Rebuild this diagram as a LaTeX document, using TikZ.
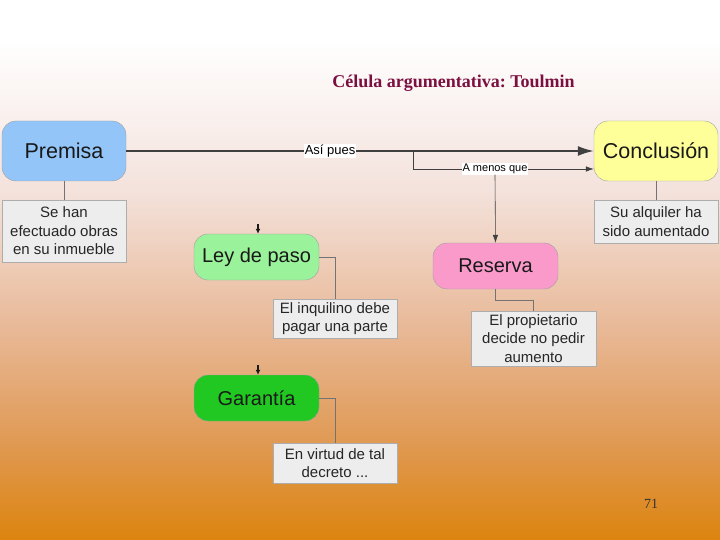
\documentclass[tikz,border=0pt]{standalone}
\usepackage{fontspec}
\setmainfont{Liberation Serif}
\newfontfamily\boxfont{Liberation Sans}
\usetikzlibrary{arrows.meta}
\frenchspacing
\definecolor{bgtop}{HTML}{FFFFFF}
\definecolor{bgmid1}{HTML}{F4E2DC}
\definecolor{bgmid2}{HTML}{E8B896}
\definecolor{bgmid3}{HTML}{E09A55}
\definecolor{bgbot}{HTML}{DC840E}
\definecolor{premc}{HTML}{93C5F8}
\definecolor{concc}{HTML}{FFFF99}
\definecolor{leyc}{HTML}{9AF29A}
\definecolor{resc}{HTML}{F99ACB}
\definecolor{garc}{HTML}{22C822}
\definecolor{notec}{HTML}{EDEDED}
\definecolor{titlec}{HTML}{7B1040}
\definecolor{edgec}{HTML}{777777}
\begin{document}
\begin{tikzpicture}[x=1pt,y=-1pt,
  mainbox/.style={draw=edgec!70,line width=0.4pt,rounded corners=14pt,font=\boxfont\fontsize{20}{24}\selectfont,text=black!90,inner sep=0pt},
  notebox/.style={draw=edgec!60,line width=0.4pt,fill=notec,font=\boxfont\fontsize{15}{18.5}\selectfont,align=center,text=black!85,inner sep=0pt},
  conn/.style={draw=black!75,line width=0.6pt},
  tip/.style={-{Latex[length=8pt,width=5.5pt]}},
  lbl/.style={fill=white,inner sep=0.6pt,font=\boxfont\fontsize{11}{12}\selectfont}]
\useasboundingbox (0,0) rectangle (720,540);
\begin{scope}[y=1pt]
\shade[top color=bgtop,bottom color=bgtop] (0,0) rectangle (720,-40);
\shade[top color=bgtop,bottom color=bgmid1] (0,-40) rectangle (720,-190);
\shade[top color=bgmid1,bottom color=bgmid2] (0,-190) rectangle (720,-330);
\shade[top color=bgmid2,bottom color=bgmid3] (0,-330) rectangle (720,-440);
\shade[top color=bgmid3,bottom color=bgbot] (0,-440) rectangle (720,-540);
\end{scope}

\node[font=\bfseries\fontsize{18}{20}\selectfont,text=titlec] (title) at (453.5,83) {Célula argumentativa: Toulmin};
\node[font=\fontsize{14}{16}\selectfont,text=black!80] (pnum) at (651,504) {71};

\node[mainbox,fill=premc,minimum width=124pt,minimum height=60pt,font=\boxfont\fontsize{21.5}{24}\selectfont] (prem) at (64,151) {Premisa};
\node[mainbox,fill=concc,minimum width=124pt,minimum height=60pt,font=\boxfont\fontsize{21.5}{24}\selectfont] (conc) at (656,151) {Conclusión};
\node[mainbox,fill=leyc,minimum width=125pt,minimum height=46pt] (ley) at (256.5,257) {Ley de paso};
\node[mainbox,fill=resc,minimum width=125pt,minimum height=46pt] (res) at (495.5,266) {Reserva};
\node[mainbox,fill=garc,minimum width=125pt,minimum height=46pt] (gar) at (256.5,398) {Garantía};

\node[notebox,minimum width=124pt,minimum height=62pt] (n1) at (64,231) {Se han\\efectuado obras\\en su inmueble};
\node[notebox,minimum width=124pt,minimum height=43pt] (n2) at (656,221.5) {Su alquiler ha\\sido aumentado};
\node[notebox,minimum width=124pt,minimum height=39pt] (n3) at (335,318.5) {El inquilino debe\\pagar una parte};
\node[notebox,minimum width=125pt,minimum height=55pt] (n4) at (533.5,338.5) {El propietario\\decide no pedir\\aumento};
\node[notebox,minimum width=124pt,minimum height=40pt] (n5) at (335,463) {En virtud de tal\\decreto ...};

% main inference arrow
\draw[conn,line width=1.8pt,-{Latex[length=16pt,width=10pt]}] (prem.east) -- (conc.west)
  node[pos=0.436,lbl,font=\boxfont\fontsize{13}{14}\selectfont] (asi) {Así pues};

% rebuttal branch
\coordinate (b1) at (413,151);
\node[lbl,font=\boxfont\fontsize{11}{12}\selectfont] (amq) at (495,169) {A menos que};
\draw[conn] (b1) |- (amq.west);
\draw[conn,tip] (amq.east) -- (amq.east -| conc.west);
\draw[conn,tip] (amq.south) -- (res.north);

% notes
\draw[conn,draw=black!55] (prem.south) -- (n1.north);
\draw[conn,draw=black!55] (conc.south) -- (n2.north);
\draw[conn,draw=black!55] (ley.east) -| (n3.north);
\draw[conn,draw=black!55] (gar.east) -| (n5.north);
\draw[conn,draw=black!55] (res.south) -- ++(0,11) -| (n4.north);

% small arrow stubs
\coordinate (s1) at (258,224);
\coordinate (s2) at (258,365);
\draw[conn,draw=black!90,line width=1.8pt,-{Latex[length=5pt,width=5pt]}] (s1) -- (s1 |- ley.north);
\draw[conn,draw=black!90,line width=1.8pt,-{Latex[length=5pt,width=5pt]}] (s2) -- (s2 |- gar.north);
\end{tikzpicture}
\end{document}
